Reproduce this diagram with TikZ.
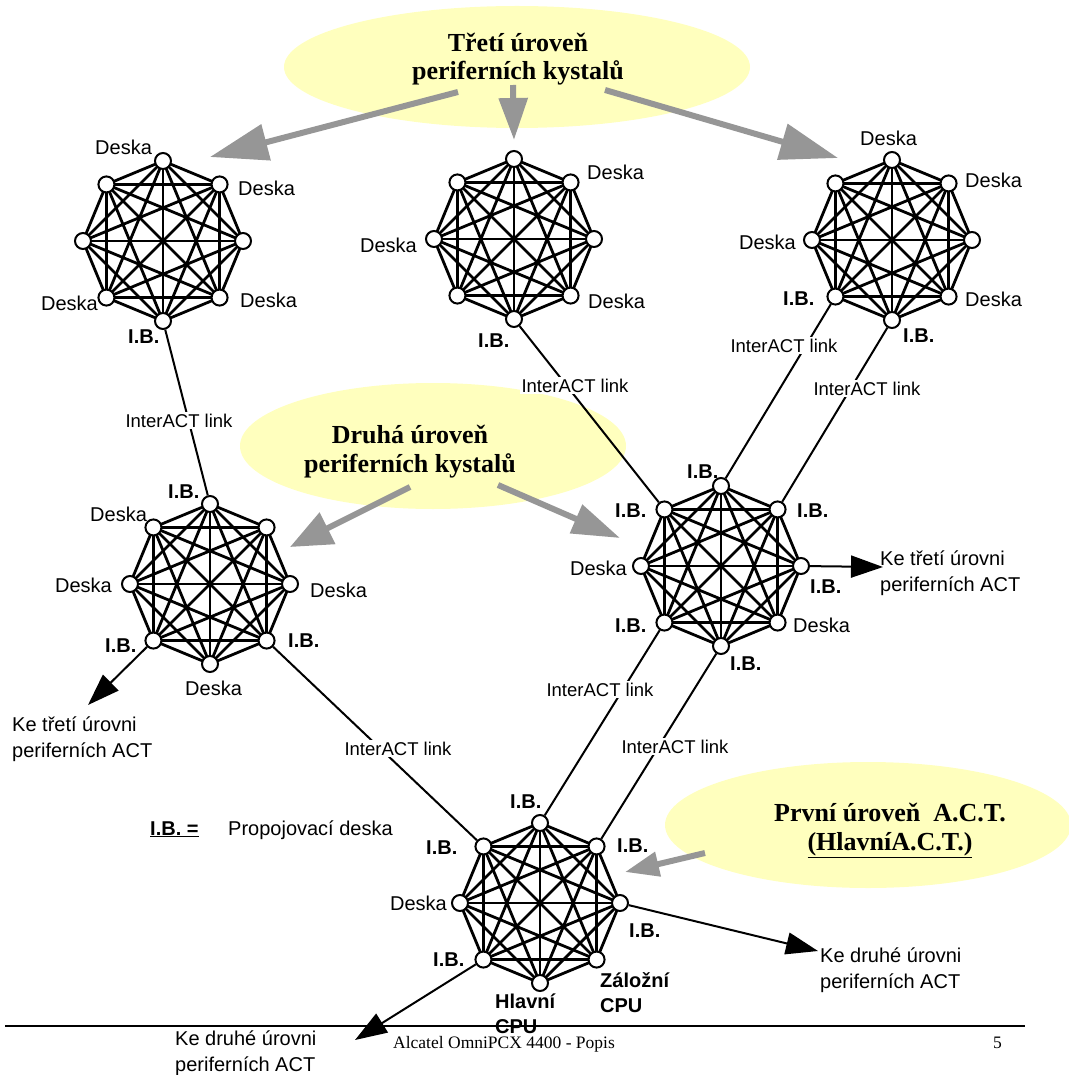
\documentclass[tikz,border=0pt]{standalone}
\usepackage{fontspec}
\setmainfont{Liberation Serif}
\setsansfont{Liberation Sans}
\usetikzlibrary{arrows.meta,calc,shapes.geometric}

\definecolor{bubblefill}{RGB}{255,255,190}
\definecolor{pointergray}{RGB}{150,150,150}

\tikzset{
  dot/.style={circle,draw,fill=white,line width=2pt,minimum size=16pt,inner sep=0pt},
  mesh/.style={line width=2.8pt},
  link/.style={line width=2pt},
  bubble/.style={ellipse,fill=bubblefill,draw=none,inner sep=0pt},
  pointer/.style={draw=pointergray,line width=6pt},
  linklabel/.style={font=\sffamily\fontsize{18.5}{20}\selectfont,fill=white,inner xsep=1.5pt,inner ysep=2pt,anchor=base},
  lbl/.style={font=\sffamily\fontsize{20}{26}\selectfont,inner sep=0pt,anchor=base west},
  lblr/.style={lbl,anchor=base east},
  ib/.style={font=\sffamily\bfseries\fontsize{20}{24.5}\selectfont,inner sep=0pt,anchor=base west,align=left},
  title/.style={font=\bfseries\fontsize{26}{28.5}\selectfont,align=center,inner sep=0pt,anchor=base},
}

% complete graph on eight boards arranged as an octagon of radius 80
\newcommand\meshring[2]{%
  \foreach \k in {1,...,8}{
    \coordinate (#1c\k) at ($(#2)+({80*cos(135-45*\k)},{-80*sin(135-45*\k)})$);
  }
  \foreach \i in {1,...,7}{
    \pgfmathtruncatemacro\nx{\i+1}
    \foreach \j in {\nx,...,8}{\draw[mesh] (#1c\i) -- (#1c\j);}
  }
  \foreach \k in {1,...,8}{\node[dot] (#1\k) at (#1c\k) {};}
}

\begin{document}
\begin{tikzpicture}[x=1pt,y=-1pt]
\useasboundingbox (0,0) rectangle (1068,1075);

% level bubbles
\node[bubble,minimum width=466pt,minimum height=122pt] (lvl3) at (517,67) {};
\node[bubble,minimum width=386pt,minimum height=126pt] (lvl2) at (433,446) {};
\node[bubble,minimum width=406pt,minimum height=126pt] (lvl1) at (868,825) {};

% multi-line nodes are placed by the baseline of their last line
\node[title] (t3) at (518,80) {Třetí úroveň\\periferních kystalů};
\node[title] (t2) at (410,472) {Druhá úroveň\\periferních kystalů};
\node[title] (t1) at (890,850) {První úroveň~~A.C.T.\\\underline{(HlavníA.C.T.)}};

% grey pointers from the bubbles
\coordinate (p1s) at (458,92);  \coordinate (p1e) at (210,157);
\coordinate (p2s) at (513,85);  \coordinate (p2e) at (514,140);
\coordinate (p3s) at (605,90);  \coordinate (p3e) at (838,158);
\coordinate (p4s) at (410,487); \coordinate (p4e) at (290,547);
\coordinate (p5s) at (498,485); \coordinate (p5e) at (620,538);
\coordinate (p6s) at (705,853); \coordinate (p6e) at (625,872);
\draw[pointer,-{Triangle[length=58pt,width=36pt]}] (p1s) -- (p1e);
\draw[pointer,-{Triangle[length=42pt,width=28pt]}] (p2s) -- (p2e);
\draw[pointer,-{Triangle[length=58pt,width=36pt]}] (p3s) -- (p3e);
\draw[pointer,-{Triangle[length=42pt,width=34pt]}] (p4s) -- (p4e);
\draw[pointer,-{Triangle[length=48pt,width=30pt]}] (p5s) -- (p5e);
\draw[pointer,-{Triangle[length=34pt,width=24pt]}] (p6s) -- (p6e);

% the seven ACT meshes
\meshring{A}{163,241}
\meshring{B}{514,239}
\meshring{C}{892,240}
\meshring{D}{210,584}
\meshring{E}{721,566}
\meshring{F}{540,903}

% InterACT links
\draw[link] (A5) -- (D1);
\draw[link] (B5) -- (E8);
\draw[link] (C6) -- (E1);
\draw[link] (C5) -- (E2);
\draw[link] (D4) -- (F8);
\draw[link] (E6) -- (F1);
\draw[link] (E5) -- (F2);

\node[linklabel] (l1) at (179,427) {InterACT link};
\node[linklabel] (l2) at (575,392) {InterACT link};
\node[linklabel] (l3) at (784,352) {InterACT link};
\node[linklabel] (l4) at (867,395) {InterACT link};
\node[linklabel] (l5) at (398,755) {InterACT link};
\node[linklabel] (l6) at (600,696) {InterACT link};
\node[linklabel] (l7) at (675,753) {InterACT link};

% outgoing links to the next level
\coordinate (o1) at (883,567);
\coordinate (o2) at (88,705);
\coordinate (o3) at (818,951);
\coordinate (o4) at (355,1040);
\draw[link,-{Triangle[length=32pt,width=22pt]}] (E3) -- (o1);
\draw[link,-{Triangle[length=32pt,width=22pt]}] (D6) -- (o2);
\draw[link,-{Triangle[length=32pt,width=22pt]}] (F3) -- (o3);
\draw[link,-{Triangle[length=32pt,width=22pt]}] (F6) -- (o4);

\node[lbl,align=left] (n1) at (880,591) {Ke třetí úrovni\\periferních ACT};
\node[lbl,align=left] (n2) at (12,757) {Ke třetí úrovni\\periferních ACT};
\node[lbl,align=left] (n3) at (820,988) {Ke druhé úrovni\\periferních ACT};
\node[lbl,align=left] (n4) at (175,1071) {Ke druhé úrovni\\periferních ACT};

% board labels, mesh A
\node[lbl] (a1) at (95,155) {Deska};
\node[lbl] (a2) at (238,196) {Deska};
\node[lblr] (a6) at (98,310) {Deska};
\node[lbl] (a4) at (240,307) {Deska};
\node[ib] (a5) at (128,343) {I.B.};
% mesh B
\node[lbl] (b2) at (587,180) {Deska};
\node[lblr] (b7) at (417,252) {Deska};
\node[lbl] (b4) at (588,308) {Deska};
\node[ib] (b5) at (478,347) {I.B.};
% mesh C
\node[lbl] (c1) at (860,146) {Deska};
\node[lbl] (c2) at (965,188) {Deska};
\node[lblr] (c7) at (796,250) {Deska};
\node[ib] (c6) at (783,305) {I.B.};
\node[lbl] (c4) at (965,306) {Deska};
\node[ib] (c5) at (903,342) {I.B.};
% mesh D
\node[ib] (d1) at (168,498) {I.B.};
\node[lbl] (d8) at (90,521) {Deska};
\node[lblr] (d7) at (112,592) {Deska};
\node[lbl] (d3) at (310,597) {Deska};
\node[ib] (d6) at (105,652) {I.B.};
\node[ib] (d4) at (288,647) {I.B.};
\node[lbl] (d5) at (185,695) {Deska};
% mesh E
\node[ib] (e1) at (687,478) {I.B.};
\node[ib] (e8) at (615,517) {I.B.};
\node[ib] (e2) at (797,517) {I.B.};
\node[lblr] (e7) at (627,575) {Deska};
\node[ib] (e3) at (810,593) {I.B.};
\node[ib] (e6) at (615,632) {I.B.};
\node[lbl] (e4) at (793,632) {Deska};
\node[ib] (e5) at (730,670) {I.B.};
% mesh F (main ACT)
\node[ib] (f1) at (510,808) {I.B.};
\node[ib] (f8) at (426,854) {I.B.};
\node[ib] (f2) at (617,852) {I.B.};
\node[lblr] (f7) at (447,910) {Deska};
\node[ib] (f3) at (629,937) {I.B.};
\node[ib] (f6) at (433,966) {I.B.};
\node[ib] (f4) at (600,1012) {Záložní\\CPU};
\node[ib] (f5) at (495,1033) {Hlavní\\CPU};

% legend
\node[ib] (key) at (150,835) {\underline{I.B. =}};
\node[lbl] (keytext) at (228,835) {Propojovací deska};

% page footer
\coordinate (r1) at (5,1026);
\coordinate (r2) at (1025,1026);
\draw[line width=2pt] (r1) -- (r2);
\node[font=\fontsize{17.5}{20}\selectfont,inner sep=0pt,anchor=base west] (foot) at (393,1048) {Alcatel OmniPCX 4400 - Popis};
\node[font=\fontsize{17.5}{20}\selectfont,inner sep=0pt,anchor=base west] (page) at (993,1048) {5};
\end{tikzpicture}
\end{document}
